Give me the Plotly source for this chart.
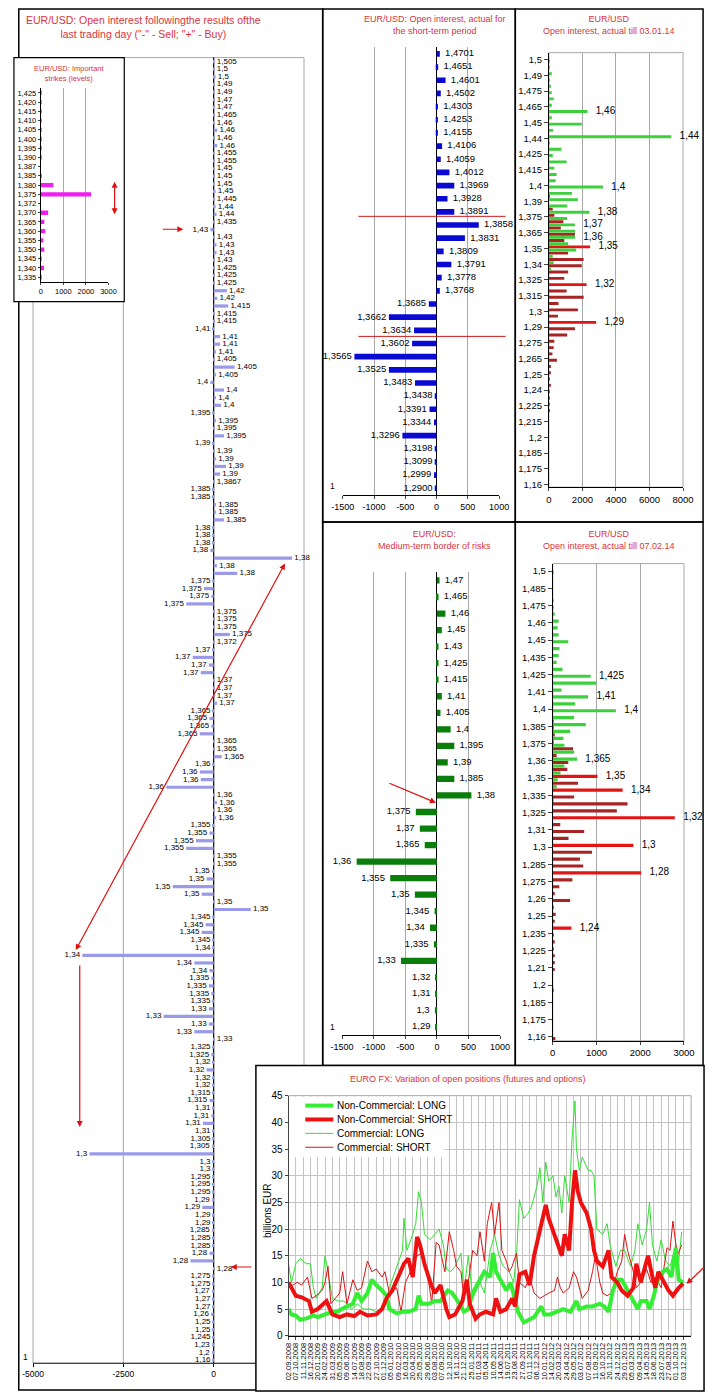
import plotly.graph_objects as go

W, H = 716, 1399
FONT = "Liberation Sans, Arial, sans-serif"
TITLE_RED = "#d8343c"
ARROW_RED = "#e01010"
GRID = "#a8a8a8"

# ---------------- DATA ----------------
# Main chart: open interest by strike (last trading day)
A_labels = ["1,505","1,5","1,5","1,49","1,49","1,47","1,47","1,465","1,46","1,46","1,46","1,46","1,455","1,455",
            "1,45","1,45","1,45","1,45","1,445","1,44","1,44","1,435","1,43","1,43","1,43","1,43","1,43","1,425",
            "1,425","1,425","1,42","1,42","1,415",
            "1,415","1,415","1,41","1,41","1,41","1,41","1,405","1,405","1,405","1,4","1,4","1,4","1,4","1,395",
            "1,395","1,395","1,395","1,39","1,39","1,39","1,39","1,39","1,3867","1,385","1,385","1,385","1,385",
            "1,385","1,38","1,38","1,38","1,38","1,38","1,38","1,38","1,375","1,375","1,375","1,375","1,375",
            "1,375","1,375","1,375","1,372",
            "1,37","1,37","1,37","1,37","1,37","1,37","1,37","1,37",
            "1,365","1,365","1,365","1,365","1,365","1,365","1,365",
            "1,36","1,36","1,36","1,36","1,36","1,36","1,36","1,36",
            "1,355","1,355","1,355","1,355","1,355","1,355",
            "1,35","1,35","1,35","1,35","1,35","1,35",
            "1,345","1,345","1,345","1,345",
            "1,34","1,34","1,34","1,34",
            "1,335","1,335","1,335","1,335",
            "1,33","1,33","1,33","1,33","1,33",
            "1,325","1,325","1,32","1,32","1,32","1,32","1,315","1,315","1,31","1,31","1,31","1,31","1,305",
            "1,305","1,3","1,3","1,3","1,295","1,295","1,295","1,29","1,29","1,29","1,29","1,285","1,285",
            "1,285","1,28","1,28","1,28","1,275","1,275","1,27","1,27","1,27","1,26","1,25","1,25","1,245",
            "1,23","1,2","1,16"]
A_values = [25,25,54,25,25,25,25,25,25,98,25,98,25,25,25,25,25,54,25,54,80,25,-90,25,80,80,25,25,25,25,366,98,402,
            25,25,-25,179,179,63,25,581,63,-90,286,63,206,-25,63,25,286,-25,25,63,340,179,25,-25,-25,63,63,286,
            -25,-25,-25,-90,2170,90,652,-25,-268,-63,-759,25,25,25,447,25,
            -25,-580,-134,-357,27,25,25,90,
            -25,-116,-63,-384,25,25,223,
            -25,-384,-357,-1313,25,90,25,63,
            -25,-116,-491,-759,25,25,
            -45,-196,-1134,-330,25,1027,
            -25,-223,-330,-25,
            -25,-3634,-536,-116,
            -63,-134,-63,-27,
            -134,-1385,-134,-536,25,
            -25,-63,-25,-196,-25,-25,-25,-116,-25,-63,-295,-25,-25,-45,-3438,-25,-25,-25,-25,-25,-45,-313,
            -25,-25,-45,-25,-25,-116,-643,25,-25,-25,-45,-25,-25,-71,-25,-25,-25,-45,-45,-25]

# Inset: important strikes
inset_labels = ["1,425","1,420","1,415","1,410","1,405","1,400","1,395","1,390","1,387","1,385","1,380",
                "1,375","1,372","1,370","1,365","1,360","1,355","1,350","1,345","1,340","1,335"]
inset_values = [43,43,40,40,40,40,40,40,0,40,557,2229,0,329,157,200,114,157,40,143,40]

# Short-term period
B_labels = ["1,4701","1,4651","1,4601","1,4502","1,4303","1,4253","1,4155","1,4106","1,4059","1,4012",
            "1,3969","1,3928","1,3891","1,3858","1,3831","1,3809","1,3791","1,3778","1,3768","1,3685",
            "1,3662","1,3634","1,3602","1,3565","1,3525","1,3483","1,3438","1,3391","1,3344","1,3296",
            "1,3198","1,3099","1,2999","1,2900"]
B_values = [52,26,144,67,21,21,21,88,67,206,283,175,283,675,453,113,237,82,52,-124,
            -762,-360,-391,-1313,-762,-345,-21,-113,-41,-546,-21,-21,-41,-21]

# Medium-term border of risks
D_labels = ["1,47","1,465","1,46","1,45","1,43","1,425","1,415","1,41","1,405","1,4","1,395","1,39",
            "1,385","1,38","1,375","1,37","1,365","1,36","1,355","1,35","1,345","1,34","1,335","1,33",
            "1,32","1,31","1,3","1,29"]
D_values = [42,26,135,78,26,26,26,78,57,218,276,172,276,546,-333,-270,-192,-1269,-738,-348,-36,-109,
            -47,-567,-16,-16,-31,-16]

# Open interest till 03.01.14 (strikes 1,500 down to 1,220 by 0,005)
C_calls = [40,20,173,40,96,173,288,173,2300,173,1960,250,7300,40,750,230,1056,326,460,400,3225,1380,1730,
           1094,2420,1094,1555,1555,1555,1150,1630,230,290,134,
           0,0,0,0,0,0,0,0,0,0,0,0,0,0,0,0,0,0,0,0,0,0,0]
C_puts = [0,0,0,0,0,0,0,0,0,0,0,0,0,0,0,0,0,0,0,0,0,0,
          20,0,230,326,864,710,1555,920,2460,1150,2070,1960,1150,920,2250,1056,2074,576,1730,538,2820,
          1555,1094,326,288,211,480,115,96,58,115,58,40,58,40]
C_ticks = ["1,5","1,49","1,475","1,465","1,45","1,44","1,425","1,415","1,4","1,39","1,375","1,365","1,35",
           "1,34","1,325","1,315","1,3","1,29","1,275","1,265","1,25","1,24","1,225","1,215","1,2","1,185",
           "1,175","1,16"]
C_call_tags = {1.46: "1,46", 1.44: "1,44", 1.4: "1,4", 1.38: "1,38", 1.37: "1,37", 1.36: "1,36"}
C_put_tags = {1.35: "1,35", 1.32: "1,32", 1.29: "1,29"}

# Open interest till 07.02.14 (strikes 1,500 down to 1,160 by 0,005)
E_calls = [10,0,0,0,15,10,44,133,111,133,355,155,133,89,222,866,992,200,807,511,1443,488,755,400,244,266,
           488,555,266,178,111,89,0,15,
           0,0,0,0,0,0,0,0,0,0,0,0,0,0,0,0,0,0,0,0,0,0,0,0,0,0,0,0,0,0,0,0,0,0,0]
E_puts = [0,0,0,0,0,0,0,0,0,0,0,0,0,0,0,0,0,0,0,0,0,0,
          10,22,30,15,466,89,355,333,1021,577,1598,488,1709,1465,2790,172,719,360,1843,899,622,697,2022,
          449,150,37,397,15,67,30,427,15,37,15,37,37,37,0,0,15,0,0,0,0,0,0,60]
E_ticks = ["1,5","1,485","1,475","1,46","1,45","1,435","1,425","1,41","1,4","1,385","1,375","1,36","1,35",
           "1,335","1,325","1,31","1,3","1,285","1,275","1,26","1,25","1,235","1,225","1,21","1,2","1,185",
           "1,175","1,16"]
E_call_tags = {1.425: "1,425", 1.41: "1,41", 1.4: "1,4", 1.365: "1,365"}
E_put_tags = {1.35: "1,35", 1.34: "1,34", 1.32: "1,32", 1.3: "1,3", 1.28: "1,28", 1.24: "1,24"}

# EURO FX open positions (billions EUR), x = week number since 02.09.2008
F_dates = ["02.09.2008","07.10.2008","11.11.2008","16.12.2008","20.01.2009","24.02.2009","31.03.2009",
           "05.05.2009","09.06.2009","14.07.2009","18.08.2009","22.09.2009","27.10.2009","01.12.2009",
           "05.01.2010","09.02.2010","16.03.2010","20.04.2010","25.05.2010","29.06.2010","03.08.2010",
           "07.09.2010","12.10.2010","16.11.2010","21.12.2010","25.01.2011","01.03.2011","05.04.2011",
           "10.05.2011","14.06.2011","19.07.2011","23.08.2011","27.09.2011","01.11.2011","06.12.2011",
           "10.01.2012","14.02.2012","20.03.2012","24.04.2012","29.05.2012","03.07.2012","07.08.2012",
           "11.09.2012","16.10.2012","20.11.2012","24.12.2012","29.01.2013","05.03.2013","09.04.2013",
           "14.05.2013","18.06.2013","23.07.2013","27.08.2013","01.10.2013","03.12.2013"]
NC_LONG_w = [0,2,5,8,13,17,20,24,28,33,36,40,44,47,50,54,57,60,64,67,69,74,78,82,87,89,91,96,100,104,109,
             112,117,120,123,126,131,134,138,140,142,145,149,152,155,157,161,164,168,173,175,179,184,188,193,
             197,199,204,208,213,216,219,222,225,228,231,235,239,241,245,247,250,252,256,259,262,265,267,270]
NC_LONG_v = [5.0,4.0,3.8,3.0,3.3,3.8,3.5,4.0,4.3,4.5,5.0,5.5,6.0,8.0,6.5,8.0,10.5,9.5,8.5,7.5,5.0,4.2,4.5,
             4.5,5.0,7.5,6.0,6.0,6.5,6.5,8.5,8.0,6.0,4.5,5.0,8.0,10.5,12.0,11.0,15.5,12.0,10.5,8.5,10.0,7.0,
             4.5,2.5,3.0,3.5,5.5,4.0,4.0,4.5,5.0,4.5,6.5,5.0,5.5,5.5,6.0,5.5,4.5,8.5,10.5,10.5,9.0,7.0,5.0,
             6.5,6.5,5.0,7.5,10.0,12.0,12.5,11.0,16.5,10.5,10.0]
NC_SHORT_w = [0,5,9,14,16,20,26,30,35,40,45,49,54,60,64,67,71,76,79,82,85,88,90,93,97,100,104,108,110,114,
              119,122,124,128,131,135,140,142,145,149,153,155,158,162,165,168,172,176,178,182,185,187,189,
              192,194,196,198,200,204,207,209,211,215,219,221,225,228,232,236,238,241,246,249,251,253,257,
              260,263,267,270]
NC_SHORT_v = [10,7.5,7.2,6.5,4.5,5,6.5,4,3.5,4,3.7,4.5,3.8,4,5,7,8.5,11.5,13.5,14.5,11,18.5,17,13.5,10,8,
              9.5,5,3.5,4,6.5,10.5,6,3.2,4,4.5,4,7,4.5,5,7,5.5,11.5,12,9.5,15,20,24.5,22,19,17,15,19,16,25,
              31,27,25,23,20,16,14,13,16,11,10,8.5,7.5,9,13.5,10,15,11,9,12,10,8.5,7.5,9,9.8]
C_LONG_w = [0,2,5,8,12,15,17,19,23,25,27,30,34,38,43,47,51,56,60,65,69,74,78,79,81,85,87,89,91,93,97,100,
            103,106,108,111,114,118,120,123,126,131,134,138,141,144,147,151,154,156,158,161,164,166,170,172,
            174,176,178,181,183,185,187,189,192,194,196,197,199,201,205,207,209,211,215,218,220,224,227,230,
            234,237,239,242,245,247,249,252,255,258,261,265,267,269]
C_LONG_v = [13.5,10,13.5,14.5,13.5,13.5,9,7,9,15,12,7,6.5,6.5,5,6,5,5,4.5,5,9,13,16,22,16,19,21,27,25,19,
            18,19,20,17,12.5,12,13,15.5,8,15,7,10,8,16,19,15,13,12,10,15,25.5,22,23,24,28,31.5,25,32.5,29,
            30,26,28,23,30,25,37,44,35,31,33.5,31,31,30,20,19,21,17,13,16,16,13,16,21,17,20,25,17,14,18,14,
            13,17,14,19.5]
C_SHORT_w = [0,3,6,9,13,16,19,23,25,27,29,32,35,37,40,44,47,50,54,57,60,64,66,69,74,77,80,85,88,91,95,98,
             101,103,107,110,113,115,118,120,123,126,129,131,134,136,139,141,144,146,149,151,153,156,158,
             162,165,168,172,175,178,182,184,186,188,192,195,197,199,201,205,208,210,213,215,218,221,225,
             228,230,232,236,238,241,245,248,251,255,257,259,261,263,266,269]
C_SHORT_v = [9,9.5,10,9.5,11,7,7.5,8.5,10,13,6,7,8,12,6,10.5,8.5,9,14,12,12.5,11,12,8,9,4.5,10,13,15,15.5,
             12,6,17.5,17,12,19.5,16,13,12,7,10,16,15,19.5,14,21,25,19,25,16,14,12,13,15.5,10,9,11,8,7,7.5,
             8,8.5,11,9,8,9,12,11,9,7,8.5,12,15,10,8,7.5,8,12,14,19,16,12,9,10,12.5,10,11,9,13,16.5,16,
             21.5,15,17]


# ---------------- helpers ----------------
def px(x):
    return x / W


def py(y):
    return 1 - y / H


def dom_x(a, b):
    return [px(a), px(b)]


def dom_y(top, bottom):
    return [py(bottom), py(top)]


def tf(size, color="black"):
    return dict(size=size, color=color, family=FONT)


NB = "\u00a0"


def side_labels(values, labels, pad_r, pad_l):
    texts, pos = [], []
    for v, t in zip(values, labels):
        if v >= 0:
            texts.append(NB * pad_r + t)
            pos.append("middle right")
        else:
            texts.append(t + NB * pad_l)
            pos.append("middle left")
    return texts, pos


fig = go.Figure()

# ---- A: main chart
A_idx = list(range(len(A_values)))
fig.add_trace(go.Bar(x=A_values, y=A_idx, orientation="h", width=0.42,
                     marker=dict(color="#9a9ae8", line=dict(width=0)),
                     xaxis="x", yaxis="y", hoverinfo="skip"))
t, p = side_labels(A_values, A_labels, 1, 1)
fig.add_trace(go.Scatter(x=A_values, y=A_idx, mode="text", text=t, textposition=p,
                         textfont=tf(8), xaxis="x", yaxis="y", cliponaxis=False, hoverinfo="skip"))

# ---- Inset
I_idx = list(range(len(inset_values)))
fig.add_trace(go.Bar(x=inset_values, y=I_idx, orientation="h", width=0.47,
                     marker=dict(color="#f01ef0", line=dict(width=0)),
                     xaxis="x2", yaxis="y2", hoverinfo="skip"))

# ---- B
B_idx = list(range(len(B_values)))
fig.add_trace(go.Bar(x=B_values, y=B_idx, orientation="h", width=0.43,
                     marker=dict(color="#0a0ad2", line=dict(width=0)),
                     xaxis="x3", yaxis="y3", hoverinfo="skip"))
t, p = side_labels(B_values, B_labels, 2, 1)
fig.add_trace(go.Scatter(x=B_values, y=B_idx, mode="text", text=t, textposition=p,
                         textfont=tf(9.5), xaxis="x3", yaxis="y3", cliponaxis=False, hoverinfo="skip"))

# ---- D
D_idx = list(range(len(D_values)))
fig.add_trace(go.Bar(x=D_values, y=D_idx, orientation="h", width=0.38,
                     marker=dict(color="#0a7d0a", line=dict(width=0)),
                     xaxis="x5", yaxis="y5", hoverinfo="skip"))
t, p = side_labels(D_values, D_labels, 2, 2)
fig.add_trace(go.Scatter(x=D_values, y=D_idx, mode="text", text=t, textposition=p,
                         textfont=tf(9.5), xaxis="x5", yaxis="y5", cliponaxis=False, hoverinfo="skip"))


# ---- C and E (calls green / puts red)
def strike_panel(calls, puts, call_tags, put_tags, xa, ya):
    strikes = [round(1.5 - 0.005 * i, 3) for i in range(len(calls))]
    put_cols = ["#e31414" if s in put_tags else "#a82424" for s in strikes]
    fig.add_trace(go.Bar(x=puts, y=strikes, orientation="h", width=0.0023, offset=0.0001,
                         marker=dict(color=put_cols, line=dict(width=0)),
                         xaxis=xa, yaxis=ya, hoverinfo="skip"))
    fig.add_trace(go.Bar(x=calls, y=strikes, orientation="h", width=0.0023, offset=-0.0024,
                         marker=dict(color="#3cd03c", line=dict(width=0)),
                         xaxis=xa, yaxis=ya, hoverinfo="skip"))
    lx, ly, lt = [], [], []
    for s, c, q in zip(strikes, calls, puts):
        if s in call_tags:
            lx.append(c); ly.append(s - 0.00125); lt.append(NB * 3 + call_tags[s])
        if s in put_tags:
            lx.append(q); ly.append(s + 0.00125); lt.append(NB * 3 + put_tags[s])
    fig.add_trace(go.Scatter(x=lx, y=ly, mode="text", text=lt, textposition="middle right",
                             textfont=tf(10), xaxis=xa, yaxis=ya, cliponaxis=False, hoverinfo="skip"))


strike_panel(C_calls, C_puts, C_call_tags, C_put_tags, "x4", "y4")
strike_panel(E_calls, E_puts, E_call_tags, E_put_tags, "x6", "y6")

# ---- F: lines
fig.add_trace(go.Scatter(x=C_LONG_w, y=C_LONG_v, mode="lines", line=dict(color="#33dd33", width=1),
                         xaxis="x7", yaxis="y7", hoverinfo="skip"))
fig.add_trace(go.Scatter(x=C_SHORT_w, y=C_SHORT_v, mode="lines", line=dict(color="#dd1111", width=1),
                         xaxis="x7", yaxis="y7", hoverinfo="skip"))
fig.add_trace(go.Scatter(x=NC_LONG_w, y=NC_LONG_v, mode="lines", line=dict(color="#33ee33", width=4),
                         xaxis="x7", yaxis="y7", hoverinfo="skip"))
fig.add_trace(go.Scatter(x=NC_SHORT_w, y=NC_SHORT_v, mode="lines", line=dict(color="#ee1111", width=4),
                         xaxis="x7", yaxis="y7", hoverinfo="skip"))

# ---------------- axes ----------------
def axis(**kw):
    d = dict(showgrid=False, zeroline=False, showline=False, ticks="", fixedrange=True,
             tickfont=tf(9), gridcolor=GRID, gridwidth=1)
    d.update(kw)
    return d


hy = lambda vals: [("-" + str(abs(v))) if v < 0 else str(v) for v in vals]

bx_vals = [-1500, -1000, -500, 0, 500, 1000]
C_tv = [1.5 - 0.0125 * k for k in range(28)]

layout_axes = dict(
    xaxis=axis(domain=dom_x(21.7, 301.7), range=[-5000, 2500], anchor="y",
               tickvals=[-5000, -2500, 0], ticktext=hy([-5000, -2500, 0]),
               ticks="outside", ticklen=3, tickcolor="black", tickfont=tf(8.5)),
    yaxis=axis(domain=dom_y(52, 1368), range=[170.4, -0.52], anchor="x", showticklabels=False),
    xaxis2=axis(domain=dom_x(29.7, 99.7), range=[0, 3000], anchor="y2",
                tickvals=[0, 1000, 2000, 3000], ticktext=hy([0, 1000, 2000, 3000]),
                showgrid=True, showline=True, linecolor="black", ticks="outside", ticklen=2,
                tickfont=tf(7.5)),
    yaxis2=axis(domain=dom_y(83, 278), range=[20.5, -0.5], anchor="x2",
                tickvals=I_idx, ticktext=inset_labels, showline=True, linecolor="black",
                ticks="outside", ticklen=2, tickfont=tf(7.5)),
    xaxis3=axis(domain=dom_x(341.7, 503.3), range=[-1500, 1000], anchor="y3",
                tickvals=bx_vals, ticktext=hy(bx_vals), showgrid=True, zeroline=True,
                zerolinecolor="black", zerolinewidth=1.2, showline=True, linecolor="black",
                ticks="outside", ticklen=3, tickfont=tf(9)),
    yaxis3=axis(domain=dom_y(41.7, 492.7), range=[33.5, -0.5], anchor="x3", showticklabels=False),
    xaxis4=axis(domain=dom_x(554.7, 693.3), range=[0, 8000], anchor="y4",
                tickvals=[0, 2000, 4000, 6000, 8000], ticktext=hy([0, 2000, 4000, 6000, 8000]),
                showgrid=True, showline=True, linecolor="black", ticks="outside", ticklen=3,
                tickfont=tf(9.5)),
    yaxis4=axis(domain=dom_y(47, 485), range=[1.1604, 1.5055], anchor="x4",
                tickvals=C_tv, ticktext=C_ticks, showline=True, linecolor="black",
                ticks="outside", ticklen=4, tickfont=tf(9.5)),
    xaxis5=axis(domain=dom_x(341, 504.3), range=[-1500, 1000], anchor="y5",
                tickvals=bx_vals, ticktext=hy(bx_vals), showgrid=True, zeroline=True,
                zerolinecolor="black", zerolinewidth=1.2, showline=True, linecolor="black",
                ticks="outside", ticklen=3, tickfont=tf(9)),
    yaxis5=axis(domain=dom_y(570.7, 1037.4), range=[27.5, -0.5], anchor="x5", showticklabels=False),
    xaxis6=axis(domain=dom_x(558.7, 694.3), range=[0, 3000], anchor="y6",
                tickvals=[0, 1000, 2000, 3000], ticktext=hy([0, 1000, 2000, 3000]),
                showgrid=True, showline=True, linecolor="black", ticks="outside", ticklen=3,
                tickfont=tf(9.5)),
    yaxis6=axis(domain=dom_y(562, 1043), range=[1.1596, 1.5054], anchor="x6",
                tickvals=C_tv, ticktext=E_ticks, showline=True, linecolor="black",
                ticks="outside", ticklen=4, tickfont=tf(9.5)),
    xaxis7=axis(domain=dom_x(285.7, 701.7), range=[0, 275.5], anchor="y7",
                tickvals=list(range(0, 275, 5)), ticktext=F_dates, tickangle=-90,
                showgrid=True, gridcolor="#c4c4c4", showline=True, linecolor="black",
                ticks="outside", ticklen=3, tickfont=tf(7.5)),
    yaxis7=axis(domain=dom_y(1098.3, 1340.3), range=[0, 45], anchor="x7",
                tickvals=list(range(0, 50, 5)), ticktext=[str(v) for v in range(0, 50, 5)],
                showgrid=True, gridcolor="#c4c4c4", showline=True, linecolor="#444444",
                ticks="outside", ticklen=3, tickfont=tf(10)),
)

# ---------------- shapes ----------------
shapes = []


def rect(x0, y0, x1, y1, color="black", width=1.5, fill="rgba(0,0,0,0)", layer="below"):
    shapes.append(dict(type="rect", xref="paper", yref="paper", x0=px(x0), x1=px(x1), y0=py(y0), y1=py(y1),
                       line=dict(color=color, width=width), fillcolor=fill, layer=layer))


def seg(x0, y0, x1, y1, color, width=1, layer="below"):
    shapes.append(dict(type="line", xref="paper", yref="paper", x0=px(x0), x1=px(x1), y0=py(y0), y1=py(y1),
                       line=dict(color=color, width=width), layer=layer))


def a_px(v):
    return 21.7 + (v + 5000) / 7500 * 280


rect(7, 3, 321, 1395)
rect(321, 3, 520, 520)
rect(520, 3, 714, 520)
rect(321, 520, 520, 1068)
rect(520, 520, 714, 1068)
for v in (-5000, -2500, 2500):
    seg(a_px(v), 52, a_px(v), 1368, GRID)
seg(a_px(-5000), 52, a_px(2500), 52, GRID)
seg(a_px(-5000), 1368, a_px(2500), 1368, "black")
seg(a_px(0), 52, a_px(0), 1368, "black", 1.2)
rect(2, 52, 116, 298, fill="white", width=1.2)
rect(252, 1068, 715, 1396, fill="white", width=1.5)
rect(554.7, 47, 693.3, 485, color=GRID, width=1)
rect(558.7, 562, 694.3, 1043, color=GRID, width=1)
rect(285.7, 1098.3, 701.7, 1340.3, color=GRID, width=1)
# short-term red borders
seg(358, 212, 510, 212, "#d01818", 1, "above")
seg(358, 333, 510, 333, "#d01818", 1, "above")
# legend of the line chart
rect(286.7, 1099.5, 446.7, 1160, color="white", width=0, fill="white", layer="above")
legend_items = [("Non-Commercial: LONG", "#33ee33", 4), ("Non-Commercial: SHORT", "#ee1111", 4),
                ("Commercial: LONG", "#33dd33", 1), ("Commercial: SHORT", "#dd1111", 1)]
for i, (_, col, wd) in enumerate(legend_items):
    yy = 1108.3 + 14 * i
    seg(303, yy, 332, yy, col, wd, "above")

# ---------------- annotations ----------------
ann = []


def note(x, y, text, size, color="black", anchor="center"):
    ann.append(dict(x=px(x), y=py(y), xref="paper", yref="paper", text=text, showarrow=False,
                    font=tf(size, color), xanchor=anchor, yanchor="middle", align="center"))


def arrow(hx, hy_, tx, ty, both=False):
    ann.append(dict(x=px(hx), y=py(hy_), xref="paper", yref="paper", ax=tx - hx, ay=ty - hy_,
                    text="", showarrow=True, arrowhead=2, arrowsize=1, arrowwidth=1.2,
                    arrowcolor=ARROW_RED, arrowside="end+start" if both else "end"))


note(136, 21, 'EUR/USD: Open interest followingthe results ofthe<br>last trading day ("-" - Sell; "+" - Buy)',
     10.5, TITLE_RED)
note(59, 68, "EUR/USD: Important<br>strikes (levels)", 7.5, TITLE_RED)
note(437, 19, "EUR/USD: Open interest, actual for<br>the short-term period", 9, TITLE_RED)
note(617, 19, "EUR/USD<br>Open interest, actual till 03.01.14", 9, TITLE_RED)
note(437, 538, "EUR/USD:<br>Medium-term border of risks", 9, TITLE_RED)
note(617, 538, "EUR/USD<br>Open interest, actual till 07.02.14", 9, TITLE_RED)
note(471, 1082, "EURO FX: Variation of open positions (futures and options)", 9, TITLE_RED)
note(14, 1362, "1", 8.5)
note(331, 484, "1", 8.5)
note(331, 1029, "1", 8.5)
ann.append(dict(x=px(264), y=py(1215), xref="paper", yref="paper", text="billions EUR", showarrow=False,
                font=tf(10), textangle=-90, xanchor="center", yanchor="middle"))
for i, (name, _, _) in enumerate(legend_items):
    note(334, 1108.3 + 14 * i, name, 10, "black", "left")

arrow(106, 210, 106, 176, both=True)
arrow(177, 225, 155, 225)
arrow(282, 562, 72, 950, both=True)
arrow(70, 1130, 70, 967)
arrow(226, 1271, 248, 1271)
arrow(438, 803, 390, 783)
arrow(697, 1288, 716, 1270)

fig.update_layout(
    width=W, height=H, margin=dict(l=0, r=0, t=0, b=0, pad=0),
    paper_bgcolor="white", plot_bgcolor="rgba(0,0,0,0)",
    showlegend=False, barmode="overlay", font=dict(family=FONT, size=9, color="black"),
    shapes=shapes, annotations=ann, **layout_axes,
)

fig.write_html("out.html", config={"displayModeBar": False},
               post_script="document.body.style.margin='0';document.body.style.padding='0';"
                           "document.documentElement.style.overflow='hidden';")
